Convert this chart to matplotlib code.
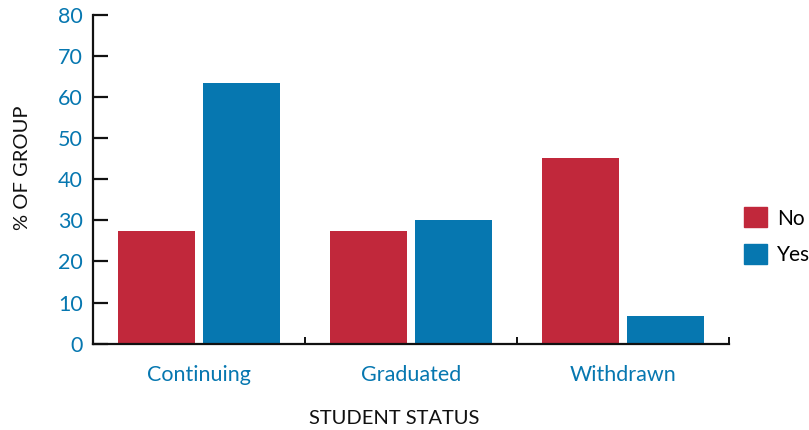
import numpy as np
import matplotlib.pyplot as plt
import matplotlib.patches as mpatches

plt.rcParams['font.family'] = ['Lato', 'DejaVu Sans']

statuses = ["Continuing", "Graduated", "Withdrawn"]
pct_no = [27.5, 27.4, 45.2]
pct_yes = [63.5, 30.1, 6.7]
yticks = [0, 10, 20, 30, 40, 50, 60, 70, 80]

red = "#c1283b"
blue = "#0677b0"

fig = plt.figure(figsize=(8.09, 4.30), dpi=100)
ax = fig.add_axes([0.115, 0.2007, 0.786, 0.765])

x = np.arange(len(statuses))
w = 0.363
ax.bar(x - 0.2, pct_no, width=w, color=red, label="No")
ax.bar(x + 0.2, pct_yes, width=w, color=blue, label="Yes")

ax.set_xlim(-0.5, 2.5)
ax.set_ylim(0, 80)
ax.set_yticks(yticks)
ax.set_xticks(x)
ax.set_xticklabels(statuses)
ax.set_xticks([-0.5, 0.5, 1.5, 2.5], minor=True)

for s in ["top", "right"]:
    ax.spines[s].set_visible(False)
for s in ["left", "bottom"]:
    ax.spines[s].set_linewidth(1.6)
    ax.spines[s].set_color("#111111")

ax.tick_params(axis="y", direction="in", length=11, width=1.6, color="#111111",
               labelsize=15.5, labelcolor=blue, pad=7.5)
ax.tick_params(axis="x", which="major", length=0, labelsize=15.5,
               labelcolor=blue, pad=15)
ax.tick_params(axis="x", which="minor", direction="in", length=5, width=1.4,
               color="#111111")

fig.text(0.028, 0.61, "% OF GROUP", rotation=90, ha="center", va="center",
         fontsize=14.5, color="#111111")
fig.text(0.487, 0.027, "STUDENT STATUS", ha="center", va="center",
         fontsize=14.5, color="#111111")

handles = [mpatches.Patch(color=red, label="No"),
           mpatches.Patch(color=blue, label="Yes")]
fig.legend(handles=handles, loc="center left", bbox_to_anchor=(0.9197, 0.451),
           frameon=False, fontsize=15, handlelength=1.1, handleheight=1.1,
           handletextpad=0.48, labelspacing=0.72, borderpad=0, borderaxespad=0)

fig.savefig("out.png", dpi=100)
